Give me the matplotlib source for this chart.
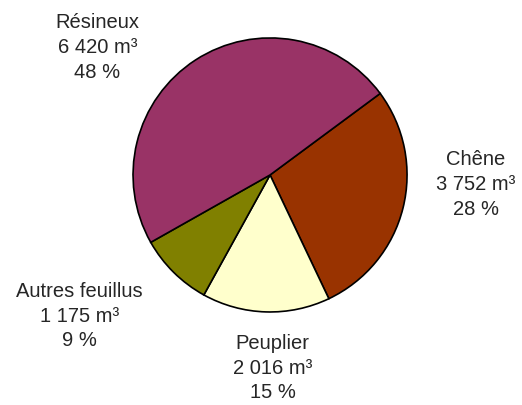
import matplotlib
matplotlib.use("Agg")
import matplotlib.pyplot as plt

# Données
essences = ['Chêne', 'Peuplier', 'Autres feuillus', 'Résineux']
volumes = [3752, 2016, 1175, 6420]
pourcents = [28, 15, 9, 48]
couleurs = ['#993300', '#FFFFCC', '#808000', '#993366']

# Position des étiquettes (en rayons du camembert)
pos_etiquettes = [(1.50, -0.07), (0.02, -1.41), (-1.39, -1.03), (-1.26, 0.93)]

plt.rcParams['font.family'] = ['Liberation Sans', 'DejaVu Sans']

fig = plt.figure(figsize=(5.22, 4.05), dpi=100)
ax = fig.add_axes([0, 0, 1, 1])

ax.pie(volumes, colors=couleurs, startangle=36.5, counterclock=False,
       radius=1.0, wedgeprops=dict(edgecolor='black', linewidth=1.2))

for nom, vol, pct, (x, y) in zip(essences, volumes, pourcents, pos_etiquettes):
    vol_txt = f"{vol:,}".replace(',', ' ')
    ax.text(x, y, f"{nom}\n{vol_txt} m³\n{pct} %", ha='center', va='center',
            fontsize=14.5, color='#262626', linespacing=1.38)

ax.set_xlim(-1.971, 1.839)
ax.set_ylim(-1.679, 1.277)
ax.set_aspect('auto')
ax.axis('off')

fig.savefig("out.png", dpi=100)
